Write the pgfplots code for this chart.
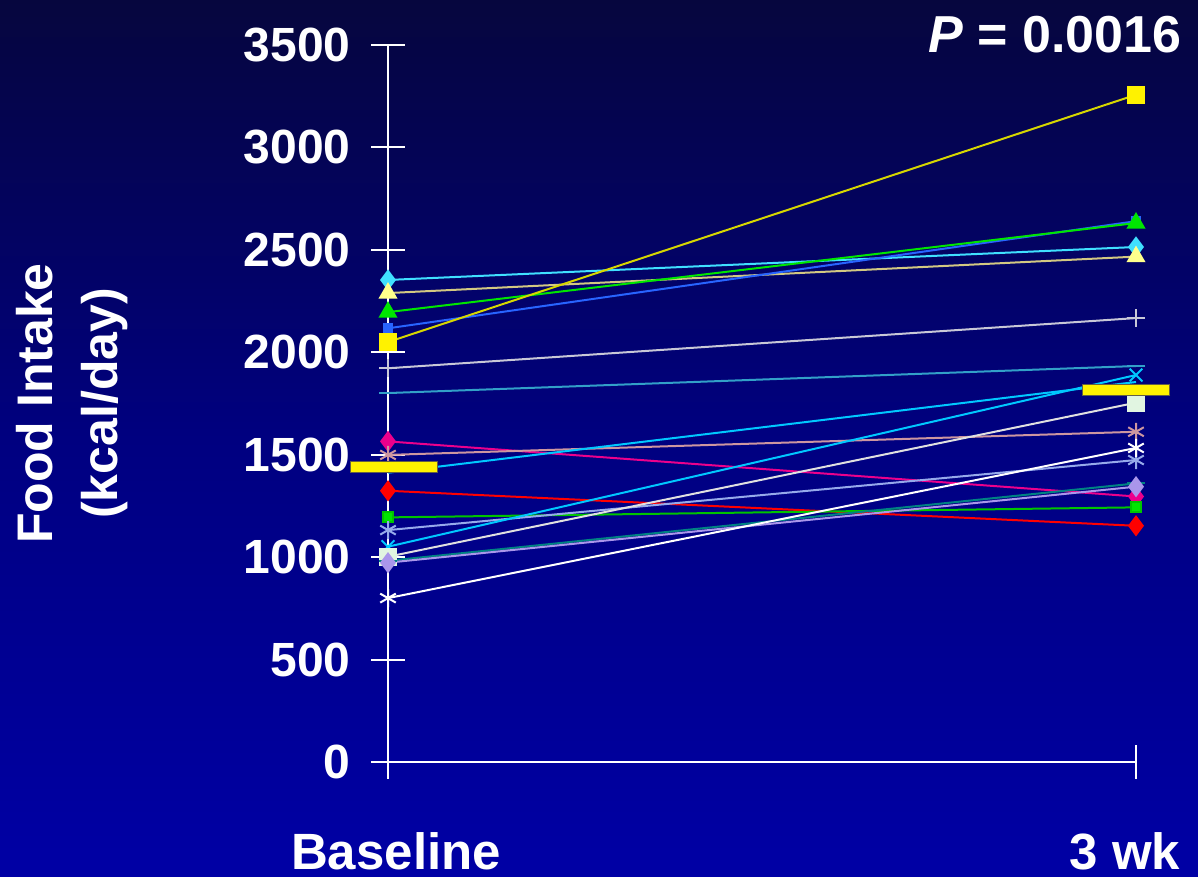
\documentclass[border=0pt]{standalone}
\usepackage{fontspec}
\setmainfont{Liberation Sans}
\usepackage{pgfplots}
\pgfplotsset{compat=1.18}
\definecolor{bgtop}{RGB}{6,6,62}
\definecolor{bgmid}{RGB}{0,0,128}
\definecolor{bgbot}{RGB}{0,0,165}
\definecolor{cyanA}{RGB}{64,224,255}
\definecolor{khakiM}{RGB}{255,255,140}
\definecolor{khakiL}{RGB}{210,200,130}
\definecolor{greenA}{RGB}{0,230,0}
\definecolor{blueA}{RGB}{40,100,255}
\definecolor{yelL}{RGB}{215,215,0}
\definecolor{grayA}{RGB}{200,200,215}
\definecolor{tealB}{RGB}{50,160,200}
\definecolor{rosyA}{RGB}{205,150,160}
\definecolor{cyanB}{RGB}{0,200,255}
\definecolor{lsb}{RGB}{150,170,235}
\definecolor{lav}{RGB}{170,150,235}
\definecolor{tealA}{RGB}{0,130,130}
\definecolor{mintW}{RGB}{225,245,225}
\begin{document}
\begin{tikzpicture}
\shade[top color=bgtop, bottom color=bgbot, middle color=bgmid] (0,0) rectangle (599pt,438.5pt);
\begin{axis}[
  at={(194pt,57.5pt)}, anchor=south west,
  scale only axis, width=374pt, height=358.5pt,
  xmin=0, xmax=1, ymin=0, ymax=3500,
  clip=false,
  axis x line*=bottom, axis y line*=left,
  axis line style={draw=white, line width=1pt, -},
  tick align=center, major tick length=17pt,
  tick style={draw=white, line width=1pt},
  xtick={0,1}, xticklabels={\kern8pt Baseline,3 wk\kern11pt},
  ytick={0,500,...,3500},
  /pgf/number format/assume math mode=true,
  /pgf/number format/1000 sep={},
  yticklabel style={font=\fontsize{24}{28}\selectfont\bfseries, text=white, anchor=east, inner sep=0pt, xshift=-10pt},
  xticklabel style={font=\fontsize{25.5}{30}\selectfont\bfseries, text=white, anchor=base, inner sep=0pt, yshift=-45pt},
  ylabel={Food Intake\\(kcal/day)},
  every axis y label/.style={at={(axis description cs:-0.4225,0.5)}, rotate=90, anchor=center, align=center, font=\fontsize{25}{32.5}\selectfont\bfseries, text=white},
  every axis plot/.append style={line width=1pt},
]
% upper group
\addplot[cyanA, mark=diamond*, mark size=4.5pt, mark options={fill=cyanA}] coordinates {(0,2353) (1,2514)};
\addplot[khakiL, mark=triangle*, mark size=4.5pt, mark options={draw=khakiM, fill=khakiM}] coordinates {(0,2289) (1,2467)};
\addplot[blueA, mark=square*, mark size=2pt, mark options={fill=blueA}] coordinates {(0,2117) (1,2640)};
\addplot[greenA, mark=triangle*, mark size=4.5pt, mark options={fill=greenA}] coordinates {(0,2196) (1,2631)};
\addplot[yelL, mark=square*, mark size=4pt, mark options={draw=yellow, fill=yellow}] coordinates {(0,2050) (1,3257)};
\addplot[grayA, mark=+, mark size=4.5pt] coordinates {(0,1922) (1,2167)};
\addplot[tealB, mark=-, mark size=4.5pt] coordinates {(0,1801) (1,1933)};
% middle group
\addplot[magenta, mark=diamond*, mark size=4.5pt, mark options={fill=magenta}] coordinates {(0,1565) (1,1296)};
\addplot[rosyA, mark=asterisk, mark size=4.5pt] coordinates {(0,1499) (1,1612)};
\addplot[cyanB, mark=none] coordinates {(0,1412) (1,1855)};
\addplot[red, mark=diamond*, mark size=4.5pt, mark options={fill=red}] coordinates {(0,1324) (1,1153)};
\addplot[greenA!85!black, mark=square*, mark size=2.5pt, mark options={fill=greenA}] coordinates {(0,1194) (1,1243)};
\addplot[lsb, mark=asterisk, mark size=4.5pt] coordinates {(0,1132) (1,1474)};
\addplot[cyanB, mark=x, mark size=4.5pt] coordinates {(0,1051) (1,1889)};
\addplot[white!88!black, mark=square*, mark size=4pt, mark options={draw=mintW, fill=mintW}] coordinates {(0,1002) (1,1754)};
\addplot[tealA, mark=-, mark size=4.5pt] coordinates {(0,982) (1,1360)};
\addplot[lav, mark=diamond*, mark size=4.5pt, mark options={fill=lav}] coordinates {(0,973) (1,1344)};
\addplot[white, mark=asterisk, mark size=4.5pt] coordinates {(0,800) (1,1533)};
% means
\addplot[only marks, mark=-, mark size=22pt, mark options={draw=black!70!yellow, line width=6pt}] coordinates {(0.008,1440) (0.987,1816)};
\addplot[only marks, mark=-, mark size=21.5pt, mark options={draw=yellow, line width=5pt}] coordinates {(0.008,1440) (0.987,1816)};
\node[anchor=east, text=white, font=\fontsize{26}{30}\selectfont\bfseries] at (axis cs:1.07,3549) {\textit{P} = 0.0016};
\end{axis}
\pgfresetboundingbox
\useasboundingbox (0,0) rectangle (599pt,438.5pt);
\end{tikzpicture}
\end{document}
